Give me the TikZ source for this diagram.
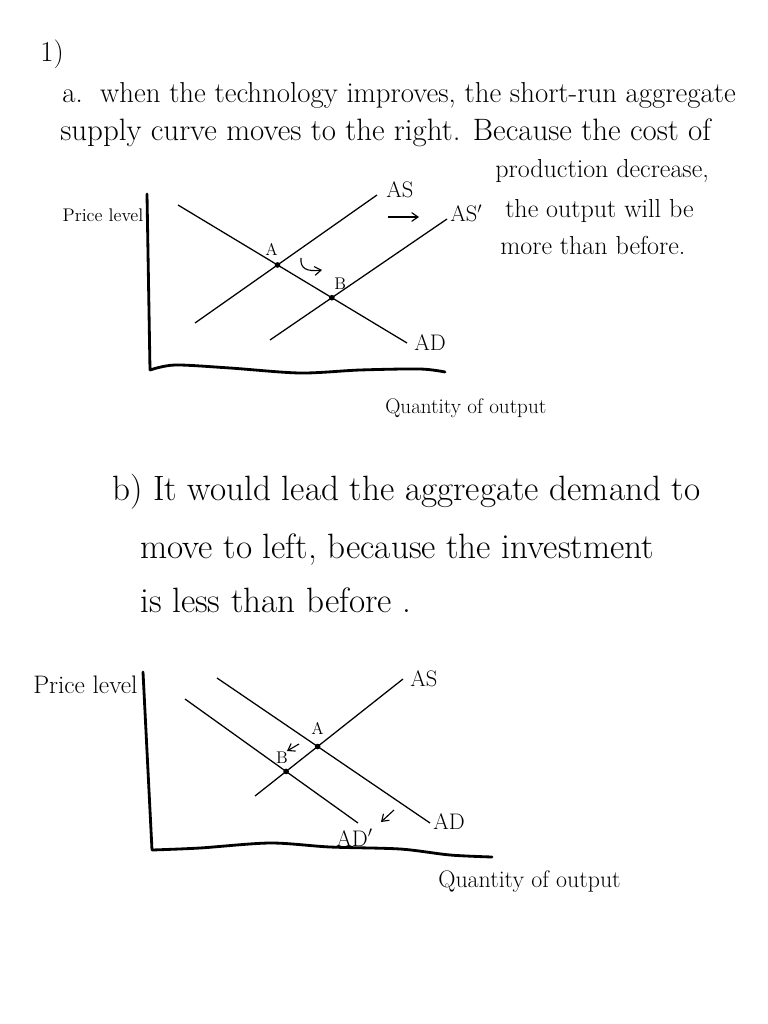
\documentclass[tikz,border=0pt]{standalone}
\usepackage{tikz}
\usetikzlibrary{arrows.meta,positioning,calc}
\tikzset{
  % Handwritten sentences
  sent/.style={anchor=base west,inner sep=0pt,font=\fontsize{20.5}{24}\selectfont},
  sentb/.style={anchor=base west,inner sep=0pt,font=\fontsize{25}{28}\selectfont},
  note/.style={anchor=base west,inner sep=0pt,font=\fontsize{18.5}{21}\selectfont},
  % Axis & curve labels
  axlbl/.style={inner sep=0pt,font=\fontsize{13}{15}\selectfont},
  crvlbl/.style={anchor=base west,inner sep=0pt,font=\fontsize{16}{18}\selectfont},
  ptlbl/.style={inner sep=0pt,font=\fontsize{12}{14}\selectfont},
  % Lines
  axis/.style={line width=2pt,line cap=round,line join=round},
  crv/.style={line width=0.9pt},
  eqpt/.style={circle,fill=black,inner sep=0pt,minimum size=4pt},
  mv/.style={-{Straight Barb[length=1.6mm,width=2.2mm]},line width=0.8pt}
}

\begin{document}
\begin{tikzpicture}[x=0.025cm,y=-0.025cm]
  \useasboundingbox (0,0) rectangle (768,1024);

  % --- Part a: text ---
  \node[sent] (q1) at (40,62) {1)};
  \node[sent] (a1) at (62,103) {a.\ \ when the technology improves, the short-run aggregate};
  \node[sent,font=\fontsize{22}{25}\selectfont] (a2) at (60,141) {supply curve moves to the right. Because the cost of};
  \node[note] (a3) at (495,178) {production decrease,};
  \node[note] (a4) at (505,218) {the output will be};
  \node[note] (a5) at (500,255) {more than before.};

  % --- Part a: chart ---
  \coordinate (o1)  at (150,370);
  \coordinate (ad1a) at (178,205);  \coordinate (ad1b) at (407,343);
  \coordinate (as1a) at (195,323);  \coordinate (as1b) at (377,195);
  \coordinate (asp1a) at (270,340); \coordinate (asp1b) at (447,219);

  \draw[axis] (147,194) -- (o1) plot[smooth,tension=0.5] coordinates
        {(o1) (175,365) (230,368) (300,373) (360,370) (420,369) (445,372)};
  \draw[crv] (ad1a) -- (ad1b);
  \draw[crv] (as1a) -- (as1b);
  \draw[crv] (asp1a) -- (asp1b);

  \node[eqpt] (pa1) at (intersection of ad1a--ad1b and as1a--as1b) {};
  \node[eqpt] (pb1) at (intersection of ad1a--ad1b and asp1a--asp1b) {};
  \node[ptlbl,above left=5pt and -2pt of pa1] (la1) {A};
  \node[ptlbl,above right=4pt and 0pt of pb1] (lb1) {B};

  \node[axlbl] (py1) at (103,215) {Price level};
  \node[axlbl,anchor=base west] (qx1) at (385,413) {\fontsize{15}{17}\selectfont Quantity of output};
  \node[crvlbl] (las1) at (386,198) {AS};
  \node[crvlbl] (lasp1) at (450,222) {AS$'$};
  \node[crvlbl] (lad1) at (414,350) {AD};

  \coordinate (r1a) at (388,217); \coordinate (r1b) at (419,217);
  \draw[mv] (r1a) -- (r1b);
  \coordinate (h1a) at (301,258); \coordinate (h1b) at (322,270);
  \draw[mv] (h1a) .. controls (300,268) and (306,272) .. (h1b);

  % --- Part b: text ---
  \node[sentb] (b1) at (112,500) {b)\ It would lead the aggregate demand to};
  \node[sentb] (b2) at (140,558) {move to left, because the investment};
  \node[sentb] (b3) at (140,612) {is less than before .};

  % --- Part b: chart ---
  \coordinate (o2)  at (152,850);
  \coordinate (as2a) at (255,796);  \coordinate (as2b) at (403,679);
  \coordinate (ad2a) at (217,678);  \coordinate (ad2b) at (430,823);
  \coordinate (adp2a) at (185,699); \coordinate (adp2b) at (358,823);

  \draw[axis] (143,672) -- (o2) plot[smooth,tension=0.5] coordinates
        {(o2) (200,848) (270,843) (330,847) (400,849) (450,855) (492,857)};
  \draw[crv] (as2a) -- (as2b);
  \draw[crv] (ad2a) -- (ad2b);
  \draw[crv] (adp2a) -- (adp2b);

  \node[eqpt] (pa2) at (intersection of ad2a--ad2b and as2a--as2b) {};
  \node[eqpt] (pb2) at (intersection of adp2a--adp2b and as2a--as2b) {};
  \node[ptlbl,above=6pt of pa2] (la2) {A};
  \node[ptlbl,above left=4pt and -3pt of pb2] (lb2) {B};

  \node[axlbl,anchor=base west] (py2) at (33,693) {\fontsize{18}{20}\selectfont Price level};
  \node[axlbl,anchor=base west] (qx2) at (438,887) {\fontsize{17}{19}\selectfont Quantity of output};
  \node[crvlbl] (las2) at (410,686) {AS};
  \node[crvlbl] (lad2) at (433,829) {AD};
  \node[crvlbl] (ladp2) at (336,846) {AD$'$};

  \coordinate (l2a) at (299,744); \coordinate (l2b) at (287,751);
  \draw[mv] (l2a) -- (l2b);
  \coordinate (d2a) at (394,810); \coordinate (d2b) at (381,822);
  \draw[mv] (d2a) -- (d2b);
\end{tikzpicture}
\end{document}
